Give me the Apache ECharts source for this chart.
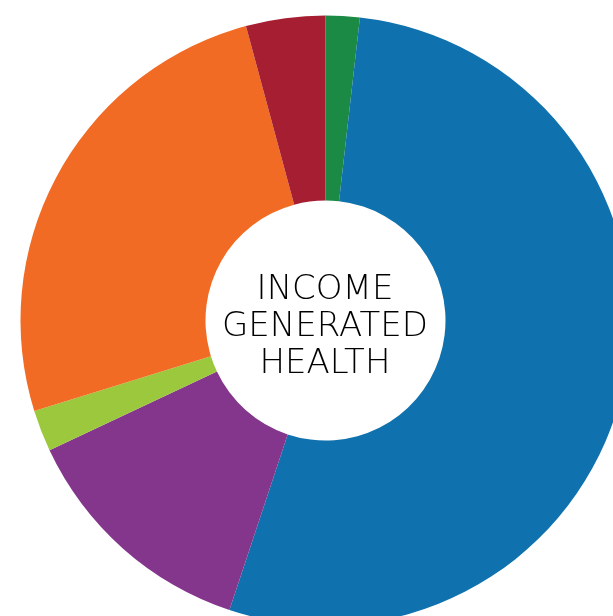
<!DOCTYPE html>
<html>
<head>
<meta charset="utf-8">
<script src="https://cdn.jsdelivr.net/npm/echarts@6/dist/echarts.min.js"></script>
<style>
  html, body { margin: 0; padding: 0; background: #fff; }
  #chart { width: 613px; height: 616px; }
</style>
</head>
<body>
<div id="chart"></div>
<script>
// slices, clockwise from 12 o'clock (values in %)
const names = ['Green', 'Blue', 'Purple', 'Light green', 'Orange', 'Red']
const values = [1.8, 53.3, 12.9, 2.2, 25.6, 4.2]
const colors = ['#1a8a45', '#0f71ad', '#83368b', '#9bc83c', '#f26b24', '#a61e32']
const centerLines = ['INCOME', 'GENERATED', 'HEALTH']

const chart = echarts.init(document.getElementById('chart'))

chart.setOption({
  backgroundColor: '#fff',
  animation: false,
  graphic: [{
    type: 'text',
    x: 325,
    y: 327,
    style: {
      text: centerLines.join('\n'),
      align: 'center',
      verticalAlign: 'middle',
      fill: '#000',
      font: '200 34px "DejaVu Sans", sans-serif',
      lineHeight: 37
    }
  }],
  series: [{
    type: 'pie',
    center: [325.5, 320.5],
    radius: [120, 305],
    startAngle: 90,
    clockwise: true,
    label: { show: false },
    labelLine: { show: false },
    emphasis: { disabled: true },
    itemStyle: { borderWidth: 0 },
    data: names.map((n, i) => ({ name: n, value: values[i], itemStyle: { color: colors[i] } }))
  }]
})
</script>
</body>
</html>
